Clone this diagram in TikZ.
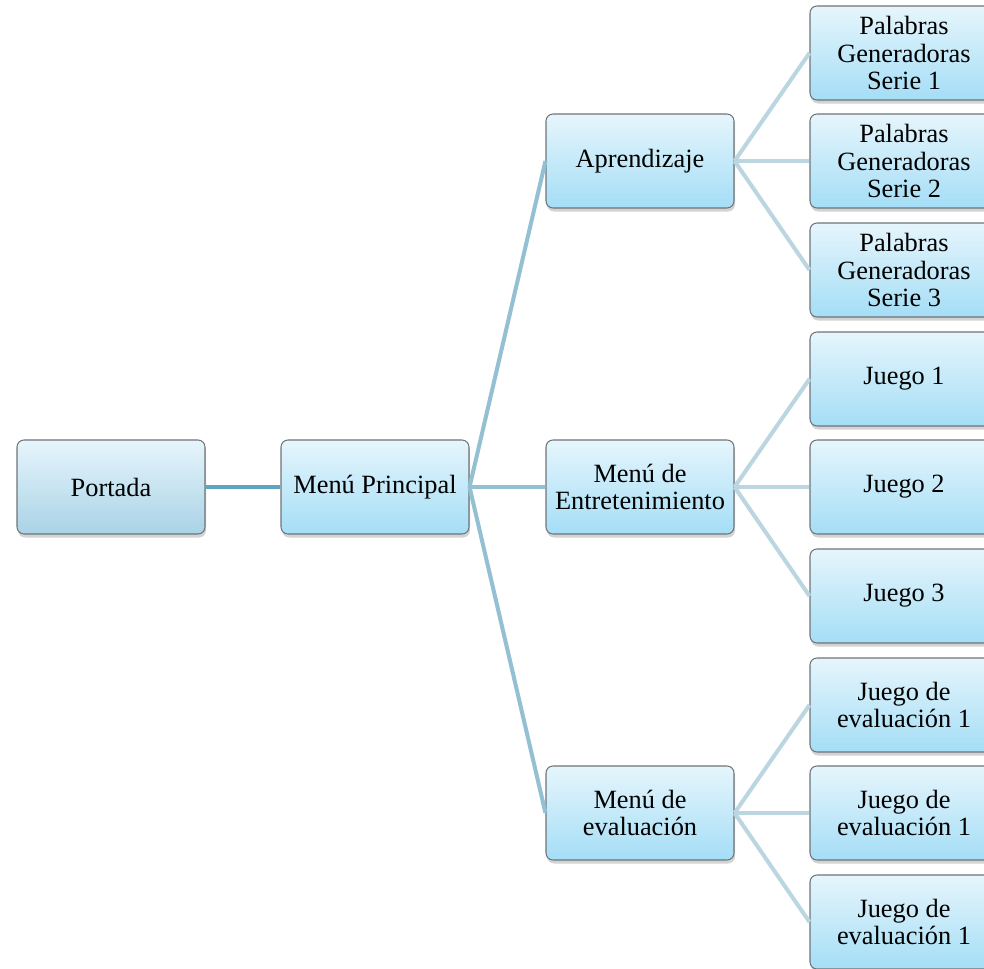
\documentclass[tikz,border=0pt]{standalone}
\usepackage{fontspec}
\setmainfont{Liberation Serif}
\usepackage{xcolor}
\usepackage{tikz}
\usetikzlibrary{positioning, calc, shadows}

\definecolor{boxtop}{HTML}{E6F5FC}
\definecolor{boxbot}{HTML}{A4DEF6}
\definecolor{boxgray}{HTML}{A9D3E6}
\definecolor{boxline}{HTML}{6E7478}
\definecolor{linkA}{HTML}{5DA5C2}
\definecolor{linkB}{HTML}{93C1D3}
\definecolor{linkC}{HTML}{BCD6E1}

\begin{document}
\begin{tikzpicture}[
        % Standard box of the menu tree
        box/.style={
            draw=boxline,
            line width=0.6pt,
            rounded corners=4pt,
            top color=boxtop,
            bottom color=boxbot,
            minimum width=3.76cm,
            minimum height=1.88cm,
            align=center,
            inner sep=2pt,
            font=\fontsize{15}{15.6}\selectfont,
            drop shadow={shadow xshift=0.6pt, shadow yshift=-2pt, opacity=0.35}
        },
        linkone/.style={draw=linkA, line width=2.8pt},
        linktwo/.style={draw=linkB, line width=2.3pt},
        linkthree/.style={draw=linkC, line width=2.3pt}
    ]

    \useasboundingbox (0,0) rectangle (19.68,19.36);
    \clip (0,0) rectangle (19.68,19.36);

    % ==========================================
    % LEVEL 1 AND 2
    % ==========================================
    \node[box, bottom color=boxgray] (portada) at (2.22, 9.62) {Portada};
    \node[box] (menu) at (7.50, 9.62) {Menú Principal};

    % ==========================================
    % LEVEL 3
    % ==========================================
    \node[box] (aprend) at (12.80, 16.14) {Aprendizaje};
    \node[box] (entret) at (12.80, 9.62) {Menú de\\Entretenimiento};
    \node[box] (evalua) at (12.80, 3.10) {Menú de\\evaluación};

    % ==========================================
    % LEAVES (cut at the right edge)
    % ==========================================
    % Aprendizaje
    \node[box] (p1) at (18.08, 18.30) {Palabras\\Generadoras\\Serie 1};
    \node[box] (p2) at (18.08, 16.14) {Palabras\\Generadoras\\Serie 2};
    \node[box] (p3) at (18.08, 13.96) {Palabras\\Generadoras\\Serie 3};

    % Entretenimiento
    \node[box] (j1) at (18.08, 11.78) {Juego 1};
    \node[box] (j2) at (18.08, 9.62) {Juego 2};
    \node[box] (j3) at (18.08, 7.44) {Juego 3};

    % Evaluacion
    \node[box] (e1) at (18.08, 5.26) {Juego de\\evaluación 1};
    \node[box] (e2) at (18.08, 3.10) {Juego de\\evaluación 1};
    \node[box] (e3) at (18.08, 0.92) {Juego de\\evaluación 1};

    % ==========================================
    % CONNECTORS
    % ==========================================
    \draw[linkone] (portada.east) -- (menu.west);

    \draw[linktwo] (menu.east) -- (aprend.west);
    \draw[linktwo] (menu.east) -- (entret.west);
    \draw[linktwo] (menu.east) -- (evalua.west);

    \draw[linkthree] (aprend.east) -- (p1.west);
    \draw[linkthree] (aprend.east) -- (p2.west);
    \draw[linkthree] (aprend.east) -- (p3.west);

    \draw[linkthree] (entret.east) -- (j1.west);
    \draw[linkthree] (entret.east) -- (j2.west);
    \draw[linkthree] (entret.east) -- (j3.west);

    \draw[linkthree] (evalua.east) -- (e1.west);
    \draw[linkthree] (evalua.east) -- (e2.west);
    \draw[linkthree] (evalua.east) -- (e3.west);

\end{tikzpicture}
\end{document}
